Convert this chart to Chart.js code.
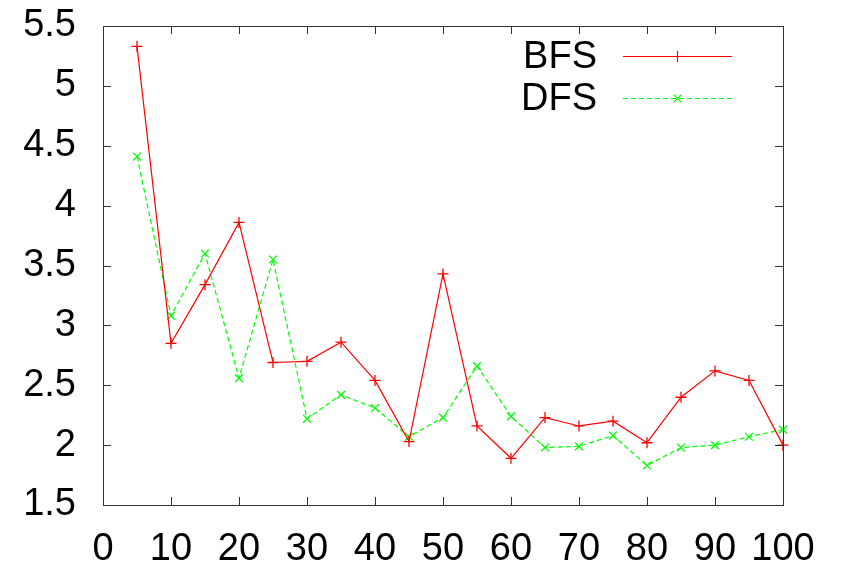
<!DOCTYPE html>
<html>
<head>
<meta charset="utf-8">
<script src="https://cdn.jsdelivr.net/npm/chart.js@4/dist/chart.umd.min.js"></script>
<style>
  html, body { margin: 0; padding: 0; background: #fff; }
  #wrap { width: 846px; height: 566px; }
</style>
</head>
<body>
<div id="wrap"><canvas id="c" width="846" height="566"></canvas></div>
<script>
// values
const sizes = [5, 10, 15, 20, 25, 30, 35, 40, 45, 50, 55, 60, 65, 70, 75, 80, 85, 90, 95, 100];
const bfs = [5.33, 2.85, 3.34, 3.86, 2.69, 2.70, 2.86, 2.54, 2.03, 3.43, 2.16, 1.89, 2.23, 2.16, 2.20, 2.02, 2.40, 2.62, 2.54, 2.00];
const dfs = [4.41, 3.08, 3.60, 2.56, 3.55, 2.22, 2.42, 2.31, 2.07, 2.23, 2.66, 2.24, 1.98, 1.99, 2.08, 1.83, 1.98, 2.00, 2.07, 2.13];
const seriesNames = ['BFS', 'DFS'];

const FONT = '38px "Liberation Sans", Arial, sans-serif';

const toPoints = (ys) => ys.map((y, i) => ({ x: sizes[i], y: y }));

// gnuplot-like frame with inward ticks on all four sides
const frameTicks = {
  id: 'frameTicks',
  afterDatasetsDraw(chart) {
    const { ctx, chartArea: a, scales: { x, y } } = chart;
    const len = 8;
    ctx.save();
    ctx.strokeStyle = '#333';
    ctx.lineWidth = 1;
    ctx.beginPath();
    x.ticks.forEach(t => {
      const px = Math.round(x.getPixelForValue(t.value)) + 0.5;
      ctx.moveTo(px, a.bottom); ctx.lineTo(px, a.bottom - len);
      ctx.moveTo(px, a.top); ctx.lineTo(px, a.top + len);
    });
    y.ticks.forEach(t => {
      const py = Math.round(y.getPixelForValue(t.value)) + 0.5;
      ctx.moveTo(a.left, py); ctx.lineTo(a.left + len, py);
      ctx.moveTo(a.right, py); ctx.lineTo(a.right - len, py);
    });
    ctx.stroke();
    ctx.strokeRect(Math.round(a.left) + 0.5, Math.round(a.top) + 0.5,
      Math.round(a.right - a.left), Math.round(a.bottom - a.top));
    ctx.restore();
  }
};

// legend inside the top right corner, text on the left of the sample line
const keyLegend = {
  id: 'keyLegend',
  afterDraw(chart) {
    const { ctx, chartArea: a } = chart;
    const textRight = a.right - 186;
    const lineStart = a.right - 160;
    const lineEnd = a.right - 51;
    const mid = (lineStart + lineEnd) / 2;
    chart.data.datasets.forEach((ds, i) => {
      const yy = a.top + 30 + i * 42;
      ctx.save();
      ctx.font = FONT;
      ctx.fillStyle = '#000';
      ctx.textAlign = 'right';
      ctx.textBaseline = 'middle';
      ctx.fillText(ds.label, textRight, yy + 2);
      ctx.strokeStyle = ds.borderColor;
      ctx.lineWidth = ds.borderWidth;
      ctx.setLineDash(ds.borderDash || []);
      ctx.beginPath();
      ctx.moveTo(lineStart, yy + 0.5);
      ctx.lineTo(lineEnd, yy + 0.5);
      ctx.stroke();
      ctx.setLineDash([]);
      Chart.helpers.drawPoint(ctx, {
        pointStyle: ds.pointStyle, radius: ds.pointRadius, borderWidth: ds.pointBorderWidth
      }, mid, yy + 0.5);
      ctx.restore();
    });
  }
};

new Chart(document.getElementById('c'), {
  type: 'line',
  data: {
    datasets: [
      {
        label: seriesNames[0],
        data: toPoints(bfs),
        borderColor: '#ff0000',
        backgroundColor: '#ff0000',
        borderWidth: 1.2,
        pointStyle: 'cross',
        pointRadius: 5.5,
        pointBorderWidth: 1.3,
        tension: 0,
        clip: false
      },
      {
        label: seriesNames[1],
        data: toPoints(dfs),
        borderColor: '#00ff00',
        backgroundColor: '#00ff00',
        borderWidth: 1.2,
        borderDash: [5, 3],
        pointStyle: 'crossRot',
        pointRadius: 5.5,
        pointBorderWidth: 1.3,
        tension: 0,
        clip: false
      }
    ]
  },
  plugins: [frameTicks, keyLegend],
  options: {
    responsive: false,
    animation: false,
    devicePixelRatio: 1,
    layout: { padding: { top: 26, right: 63, left: 0, bottom: 0 } },
    plugins: {
      legend: { display: false },
      tooltip: { enabled: false },
      title: { display: false }
    },
    scales: {
      x: {
        type: 'linear',
        min: 0,
        max: 100,
        grid: { display: false, drawTicks: false },
        border: { display: false },
        ticks: {
          stepSize: 10,
          padding: 22,
          color: '#000',
          font: { family: '"Liberation Sans", Arial, sans-serif', size: 38 },
          maxRotation: 0,
          autoSkip: false
        },
        afterFit(scale) { scale.height = 61; }
      },
      y: {
        min: 1.5,
        max: 5.5,
        grid: { display: false, drawTicks: false },
        border: { display: false },
        ticks: {
          stepSize: 0.5,
          padding: 27,
          color: '#000',
          font: { family: '"Liberation Sans", Arial, sans-serif', size: 38 },
          callback: (v) => String(v)
        },
        afterFit(scale) {
          scale.width = 103;
          scale.paddingTop = 0;
          scale.paddingBottom = 0;
        }
      }
    }
  }
});
</script>
</body>
</html>
